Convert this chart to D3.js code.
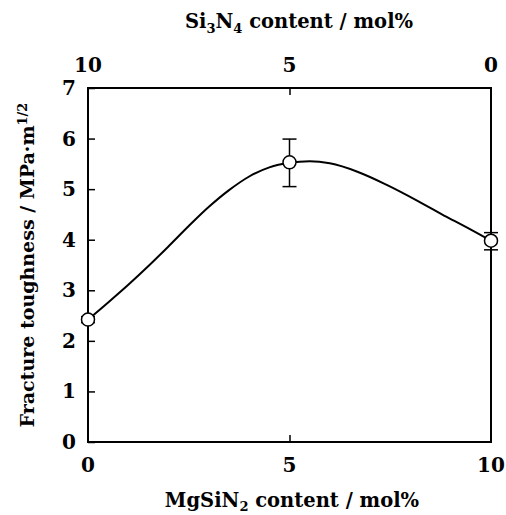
<!DOCTYPE html>
<html>
<head>
<meta charset="utf-8">
<script src="https://cdn.jsdelivr.net/npm/d3@7"></script>
<style>
  body { margin: 0; background: #fff; }
  text { font-family: "DejaVu Serif", "Liberation Serif", serif; font-weight: bold; fill: #000; }
</style>
</head>
<body>
<svg id="chart" width="506" height="515"></svg>
<script>
// measured points
let mgsin2 = [0, 5, 10];
let toughness = [2.42, 5.53, 3.98];
let errLow = [2.36, 5.05, 3.80];
let errHigh = [2.48, 5.99, 4.14];

// smooth guide curve
let curveX = [0, 0.5, 1.0, 1.5, 2.0, 2.5, 3.0, 3.5, 4.0, 4.5, 5.0, 5.5, 6.0, 6.7, 7.4, 8.2, 8.9, 9.5, 10];
let curveY = [2.42, 2.76, 3.11, 3.48, 3.87, 4.27, 4.65, 4.98, 5.25, 5.43, 5.52, 5.55, 5.51, 5.34, 5.09, 4.76, 4.45, 4.20, 3.98];

let xTicks = [0, 5, 10];
let topTicks = [10, 5, 0];
let yTicks = [0, 1, 2, 3, 4, 5, 6, 7];

let plotL = 88, plotR = 491, plotT = 88, plotB = 442;

let svg = d3.select("#chart");

let x = d3.scaleLinear().domain([0, 10]).range([plotL, plotR]);
let xTop = d3.scaleLinear().domain([10, 0]).range([plotL, plotR]);
let y = d3.scaleLinear().domain([0, 7]).range([plotB, plotT]);

// frame
svg.append("rect")
  .attr("x", plotL)
  .attr("y", plotT)
  .attr("width", plotR - plotL)
  .attr("height", plotB - plotT)
  .style("fill", "none")
  .style("stroke", "#000")
  .style("stroke-width", 2);

// left axis, ticks inside
let yAxis = svg.append("g")
  .attr("transform", "translate(" + plotL + ",0)")
  .call(d3.axisRight(y).tickValues(yTicks).tickSize(7).tickFormat(""));
yAxis.select(".domain").remove();
yAxis.selectAll("line").style("stroke-width", 1.5);

svg.selectAll(".ylab")
  .data(yTicks)
  .enter()
  .append("text")
  .attr("class", "ylab")
  .attr("x", 76)
  .attr("y", d => y(d) + 7)
  .style("text-anchor", "end")
  .style("font-size", "20px")
  .text(d => d);

// bottom axis
let xAxis = svg.append("g")
  .attr("transform", "translate(0," + plotB + ")")
  .call(d3.axisTop(x).tickValues([5]).tickSize(7).tickFormat(""));
xAxis.select(".domain").remove();
xAxis.selectAll("line").style("stroke-width", 1.5);

svg.selectAll(".xlab")
  .data(xTicks)
  .enter()
  .append("text")
  .attr("class", "xlab")
  .attr("x", d => x(d))
  .attr("y", 472)
  .style("text-anchor", "middle")
  .style("font-size", "20px")
  .text(d => d);

// top axis
let topAxis = svg.append("g")
  .attr("transform", "translate(0," + plotT + ")")
  .call(d3.axisBottom(xTop).tickValues([5]).tickSize(7).tickFormat(""));
topAxis.select(".domain").remove();
topAxis.selectAll("line").style("stroke-width", 1.5);

svg.selectAll(".toplab")
  .data(topTicks)
  .enter()
  .append("text")
  .attr("class", "toplab")
  .attr("x", d => xTop(d))
  .attr("y", 72)
  .style("text-anchor", "middle")
  .style("font-size", "20px")
  .text(d => d);

// curve
let line = d3.line()
  .x(d => x(d[0]))
  .y(d => y(d[1]))
  .curve(d3.curveMonotoneX);

svg.append("path")
  .datum(curveX.map((d, i) => [d, curveY[i]]))
  .attr("d", line)
  .style("fill", "none")
  .style("stroke", "#000")
  .style("stroke-width", 2);

// error bars
let pts = mgsin2.map((d, i) => ({ x: d, v: toughness[i], lo: errLow[i], hi: errHigh[i] }));

svg.selectAll(".err")
  .data(pts)
  .enter()
  .append("line")
  .attr("x1", d => x(d.x))
  .attr("x2", d => x(d.x))
  .attr("y1", d => y(d.lo))
  .attr("y2", d => y(d.hi))
  .style("stroke", "#000")
  .style("stroke-width", 1.5);

["lo", "hi"].forEach(k => {
  svg.selectAll(".cap" + k)
    .data(pts)
    .enter()
    .append("line")
    .attr("x1", d => x(d.x) - 7)
    .attr("x2", d => x(d.x) + 7)
    .attr("y1", d => y(d[k]))
    .attr("y2", d => y(d[k]))
    .style("stroke", "#000")
    .style("stroke-width", 1.5);
});

// markers
svg.selectAll(".pt")
  .data(pts)
  .enter()
  .append("circle")
  .attr("cx", d => x(d.x))
  .attr("cy", d => y(d.v))
  .attr("r", 6.5)
  .style("fill", "#fff")
  .style("stroke", "#000")
  .style("stroke-width", 1.5);

// axis titles
let topTitle = svg.append("text")
  .attr("x", 299)
  .attr("y", 28)
  .style("text-anchor", "middle")
  .style("font-size", "19.5px");
topTitle.append("tspan").text("Si");
topTitle.append("tspan").attr("dy", 5).style("font-size", "13px").text("3");
topTitle.append("tspan").attr("dy", -5).text("N");
topTitle.append("tspan").attr("dy", 5).style("font-size", "13px").text("4");
topTitle.append("tspan").attr("dy", -5).text(" content / mol%");

let xTitle = svg.append("text")
  .attr("x", 292)
  .attr("y", 507)
  .style("text-anchor", "middle")
  .style("font-size", "19.5px");
xTitle.append("tspan").text("MgSiN");
xTitle.append("tspan").attr("dy", 4).style("font-size", "13px").text("2");
xTitle.append("tspan").attr("dy", -4).text(" content / mol%");

let yTitle = svg.append("text")
  .attr("transform", "translate(34,265) rotate(-90)")
  .style("text-anchor", "middle")
  .style("font-size", "19px");
yTitle.append("tspan").text("Fracture toughness  / MPa·m");
yTitle.append("tspan").attr("dy", -7).style("font-size", "13px").text("1/2");
</script>
</body>
</html>
